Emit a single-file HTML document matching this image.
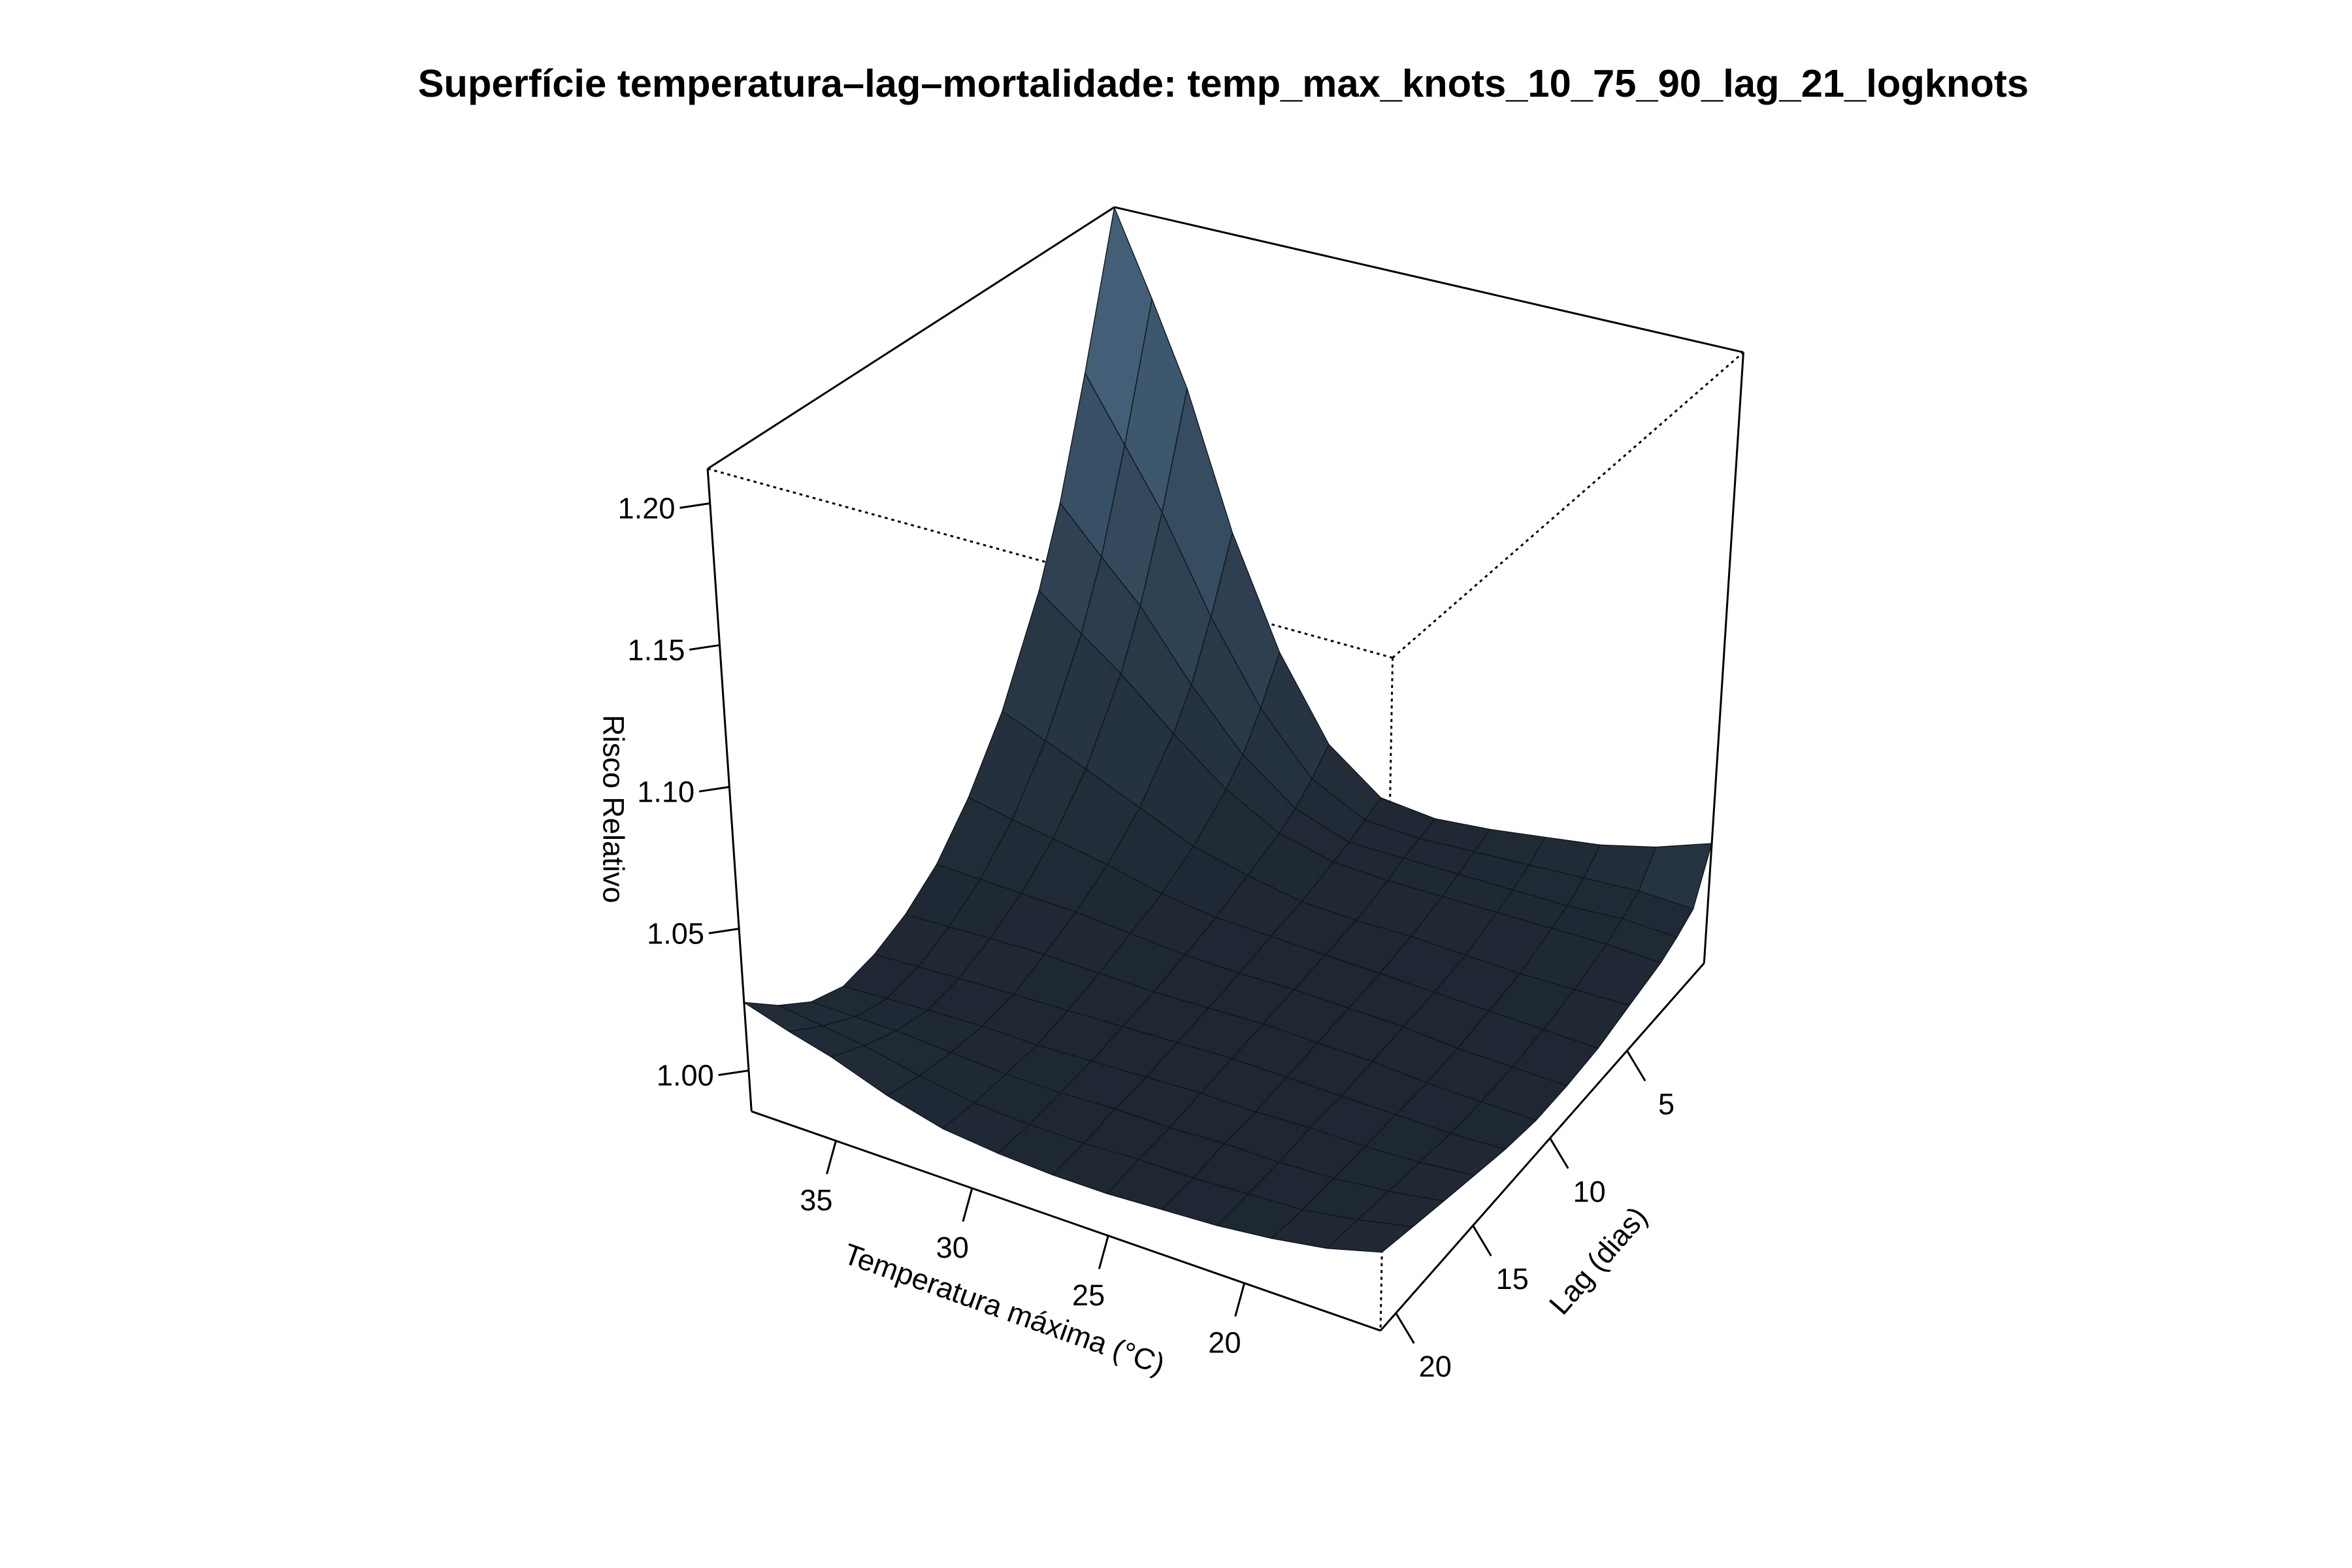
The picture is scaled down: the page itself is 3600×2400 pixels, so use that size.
<!DOCTYPE html>
<html><head><meta charset="utf-8">
<style>
html,body{margin:0;padding:0;background:#fff;}
svg{display:block;}
text{font-family:"Liberation Sans",sans-serif;fill:#000;}
</style></head>
<body>
<svg id="chart" width="3600" height="2400" viewBox="0 0 1555.5 1037" xmlns="http://www.w3.org/2000/svg">
<rect width="1555.5" height="1037" fill="#fff"/>
<text x="809" y="64" text-anchor="middle" font-size="25.8" font-weight="bold">Superfície temperatura–lag–mortalidade: temp_max_knots_10_75_90_lag_21_logknots</text>
<g id="box-back"></g>
<g id="surface"></g>
<g id="box-front"></g>
<g id="axes"></g>
</svg>
<script>
const temps = [15,17,19,21,23,25,27,29,31,33,35,36.5,38.1];
const lags = [0,1,2,3,5,7,9,11,13,15,17,19,21];
const rr = [
[1.030,1.012,1.008,1.005,1.002,0.999,0.998,0.998,1.000,1.003,1.006,1.009,1.012],
[1.022,1.012,1.008,1.005,1.001,0.999,0.998,0.998,0.999,1.001,1.003,1.005,1.007],
[1.016,1.010,1.006,1.004,1.000,0.999,0.998,0.998,0.999,1.000,1.001,1.002,1.004],
[1.012,1.008,1.005,1.003,1.000,0.999,0.999,0.999,0.999,1.000,1.000,1.001,1.002],
[1.008,1.006,1.004,1.002,1.000,0.999,0.999,0.999,0.999,0.999,1.000,1.000,1.001],
[1.005,1.004,1.003,1.001,0.999,0.999,0.999,0.999,0.999,0.999,0.999,1.000,1.000],
[1.006,1.004,1.002,1.001,0.999,0.999,0.998,0.998,0.998,0.998,0.999,0.999,1.000],
[1.020,1.013,1.008,1.005,1.002,0.999,0.998,0.997,0.997,0.997,0.998,0.999,1.001],
[1.050,1.034,1.022,1.015,1.006,1.001,0.999,0.997,0.996,0.996,0.998,1.000,1.003],
[1.092,1.064,1.043,1.030,1.014,1.005,1.000,0.997,0.995,0.996,0.999,1.003,1.008],
[1.145,1.100,1.068,1.047,1.022,1.008,1.000,0.996,0.994,0.995,1.000,1.007,1.015],
[1.178,1.123,1.083,1.058,1.028,1.010,1.000,0.995,0.993,0.994,1.000,1.009,1.019],
[1.212,1.148,1.100,1.070,1.034,1.013,1.000,0.994,0.992,0.993,1.000,1.011,1.024]
];
const zTicks = [1.00,1.05,1.10,1.15,1.20];
const zTickLabels = ["1.00","1.05","1.10","1.15","1.20"];
const tTicks = [20,25,30,35];
const lagTicks = [5,10,15,20];

const NS = "http://www.w3.org/2000/svg";
const T0 = 15, T1 = 38.1, L0 = 0, L1 = 21, Z0 = 0.9856, Z1 = 1.2122;
const B = {"00":[913,880],"10":[497,735],"01":[1127,637],"11":[711,492]};
const TP = {"00":[921,435],"10":[468,310],"01":[1153,233],"11":[737,137]};
function proj(u,v,w){
  const out=[0,0];
  for(let k=0;k<2;k++){
    const b=(1-u)*(1-v)*B["00"][k]+u*(1-v)*B["10"][k]+(1-u)*v*B["01"][k]+u*v*B["11"][k];
    const t=(1-u)*(1-v)*TP["00"][k]+u*(1-v)*TP["10"][k]+(1-u)*v*TP["01"][k]+u*v*TP["11"][k];
    out[k]=b+(t-b)*w;
  }
  return out;
}
function uOf(t){return (t-T0)/(T1-T0);}
function vOf(l){return (L1-l)/(L1-L0);}
function wOf(z){return (z-Z0)/(Z1-Z0);}
function P(t,l,z){return proj(uOf(t),vOf(l),wOf(z));}
function mk(tag,attrs,parent){const e=document.createElementNS(NS,tag);for(const k in attrs)e.setAttribute(k,attrs[k]);parent.appendChild(e);return e;}
function line(p,q,parent,dash,name){
  const e=mk("line",{x1:p[0],y1:p[1],x2:q[0],y2:q[1],stroke:"#000","stroke-width":1.3},parent);
  if(dash)e.setAttribute("stroke-dasharray","2,2.5");
  
  
  return e;
}
const back=document.getElementById("box-back");
line(TP["11"],TP["10"],back,false,'box-edge-top-left');
line(TP["11"],TP["01"],back,false,'box-edge-top-right');
line(TP["10"],TP["00"],back,true,'box-edge-top-front-left');
line(TP["00"],TP["01"],back,true,'box-edge-top-front-right');
line(TP["00"],B["00"],back,true,'box-edge-front-vertical');

const surf=document.getElementById("surface");
const quads=[];
for(let i=0;i<temps.length-1;i++){
  for(let j=0;j<lags.length-1;j++){
    const u=(uOf(temps[i])+uOf(temps[i+1]))/2, v=(vOf(lags[j])+vOf(lags[j+1]))/2;
    quads.push({i,j,d:u+v});
  }
}
quads.sort((a,b)=>b.d-a.d);
function mix(a,b,s){return "rgb("+a.map((x,k)=>Math.round(x+(b[k]-x)*s)).join(",")+")";}
for(const q of quads){
  const {i,j}=q;
  const pts=[P(temps[i],lags[j],rr[i][j]),P(temps[i+1],lags[j],rr[i+1][j]),P(temps[i+1],lags[j+1],rr[i+1][j+1]),P(temps[i],lags[j+1],rr[i][j+1])];
  const dwv=Math.abs((wOf(rr[i][j])+wOf(rr[i+1][j]))-(wOf(rr[i][j+1])+wOf(rr[i+1][j+1])))/2/Math.abs(vOf(lags[j])-vOf(lags[j+1]));
  const dwu=((wOf(rr[i+1][j])+wOf(rr[i+1][j+1]))-(wOf(rr[i][j])+wOf(rr[i][j+1])))/2/Math.abs(uOf(temps[i+1])-uOf(temps[i]));
  let s=Math.min(0.55,dwv*0.09+Math.max(0,dwu)*0.03);
  const fill=mix([30,39,50],[95,140,175],s);
  const poly=mk("polygon",{points:pts.map(p=>p[0].toFixed(2)+","+p[1].toFixed(2)).join(" "),fill:fill,stroke:"#10161c","stroke-width":0.6,"stroke-linejoin":"round"},surf);
  
  
}

const front=document.getElementById("box-front");
line(TP["10"],B["10"],front,false,'box-edge-left-vertical');
line(TP["01"],B["01"],front,false,'box-edge-right-vertical');
line(B["10"],B["00"],front,false,'box-edge-bottom-left');
line(B["00"],B["01"],front,false,'box-edge-bottom-right');

const axes=document.getElementById("axes");
function txt(x,y,s,size,anchor,rot,name){
  const e=mk("text",{x:x,y:y,"font-size":size,"text-anchor":anchor},axes);
  if(rot)e.setAttribute("transform","rotate("+rot+" "+x+" "+y+")");
  e.textContent=s;
  
  
  return e;
}
zTicks.forEach((z,k)=>{
  const p=proj(1,0,wOf(z));
  line(p,[p[0]-20,p[1]+3],axes,false,'z-tick');
  txt(p[0]-23,p[1]+10,zTickLabels[k],19.5,"end",0,'z-tick-label');
});
tTicks.forEach(t=>{
  const p=proj(uOf(t),0,0);
  line(p,[p[0]-6,p[1]+22],axes,false,'temperature-tick');
  txt(p[0]-13,p[1]+46,String(t),19.5,"middle",0,'temperature-tick-label');
});
lagTicks.forEach(l=>{
  const p=proj(0,vOf(l),0);
  line(p,[p[0]+12,p[1]+20],axes,false,'lag-tick');
  txt(p[0]+26,p[1]+42,String(l),19.5,"middle",0,'lag-tick-label');
});
txt(662,872,"Temperatura máxima (°C)",19.5,"middle",19.5,'x-axis-title');
txt(1062,838,"Lag (dias)",19.5,"middle",-49,'y-axis-title');
txt(399,535,"Risco Relativo",19.5,"middle",90,'z-axis-title');
</script>
</body></html>
